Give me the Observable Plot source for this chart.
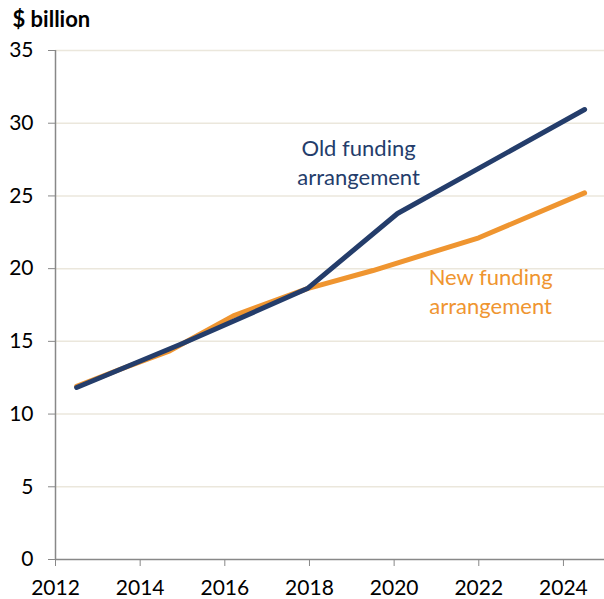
<!DOCTYPE html>
<html>
<head>
<meta charset="utf-8">
<script src="https://cdn.jsdelivr.net/npm/d3@7"></script>
<script src="https://cdn.jsdelivr.net/npm/@observablehq/plot@0.6"></script>
<style>
  html, body { margin: 0; padding: 0; background: #fff; }
  #chart svg { display: block; }
</style>
</head>
<body>
<div id="chart"></div>
<script>
// Financial year (decimal position on the year axis) and value, $ billion
const oldYears  = [2012.5, 2015.0, 2017.95, 2020.08, 2024.5];
const oldValues = [11.83, 14.85, 18.63, 23.79, 30.94];

const newYears  = [2012.5, 2013.5, 2014.7, 2016.2, 2017.95, 2019.5, 2022.0, 2024.5];
const newValues = [11.9, 13.05, 14.35, 16.75, 18.63, 19.87, 22.12, 25.21];

const xTicks = [2012, 2014, 2016, 2018, 2020, 2022, 2024];
const yTicks = [0, 5, 10, 15, 20, 25, 30, 35];

const seriesNames = ["Old funding\narrangement", "New funding\narrangement"];
const seriesColors = ["#243d6b", "#ef9530"];
const labelYears = [2019.16, 2022.28];
const labelValues = [27.4, 18.55];

const oldData = oldYears.map((x, i) => ({x, y: oldValues[i]}));
const newData = newYears.map((x, i) => ({x, y: newValues[i]}));
const labels = seriesNames.map((t, i) => ({t, x: labelYears[i], y: labelValues[i], c: seriesColors[i]}));

const font = "Lato, 'Open Sans', sans-serif";

const chart = Plot.plot({
  width: 604,
  height: 599,
  marginLeft: 55,
  marginRight: 0,
  marginTop: 50,
  marginBottom: 40,
  style: { fontFamily: font, fontSize: "20px", color: "#000", background: "#fff" },
  x: { domain: [2012, 2024.97], ticks: xTicks, tickFormat: d => String(d), label: null },
  y: { domain: [0, 35], ticks: yTicks, label: null },
  marks: [
    Plot.gridY(yTicks.filter(d => d > 0), { stroke: "#ebe7dc", strokeOpacity: 1, strokeWidth: 1.5 }),
    Plot.axisY(yTicks, { tickSize: 7, tickPadding: 15, stroke: "#888", fontSize: 21, label: null }),
    Plot.axisX(xTicks, { tickSize: 7, tickPadding: 14, stroke: "#888", fontSize: 21, tickFormat: d => String(d), label: null }),
    Plot.ruleX([2012], { stroke: "#888", strokeWidth: 1.5 }),
    Plot.ruleY([0], { stroke: "#888", strokeWidth: 1.5 }),
    Plot.line(newData, { x: "x", y: "y", stroke: seriesColors[1], strokeWidth: 5, strokeLinecap: "round", strokeLinejoin: "round" }),
    Plot.line(oldData, { x: "x", y: "y", stroke: seriesColors[0], strokeWidth: 5, strokeLinecap: "round", strokeLinejoin: "round" }),
    Plot.text(labels, { x: "x", y: "y", text: "t", fill: "c", fontSize: 22, lineHeight: 1.32, textAnchor: "middle" }),
    Plot.text(["$ billion"], { frameAnchor: "top-left", dx: -43, dy: -31, fontWeight: "bold", fontSize: 22, fill: "#000", textAnchor: "start", lineAnchor: "middle" })
  ]
});
document.getElementById("chart").appendChild(chart);
</script>
</body>
</html>
